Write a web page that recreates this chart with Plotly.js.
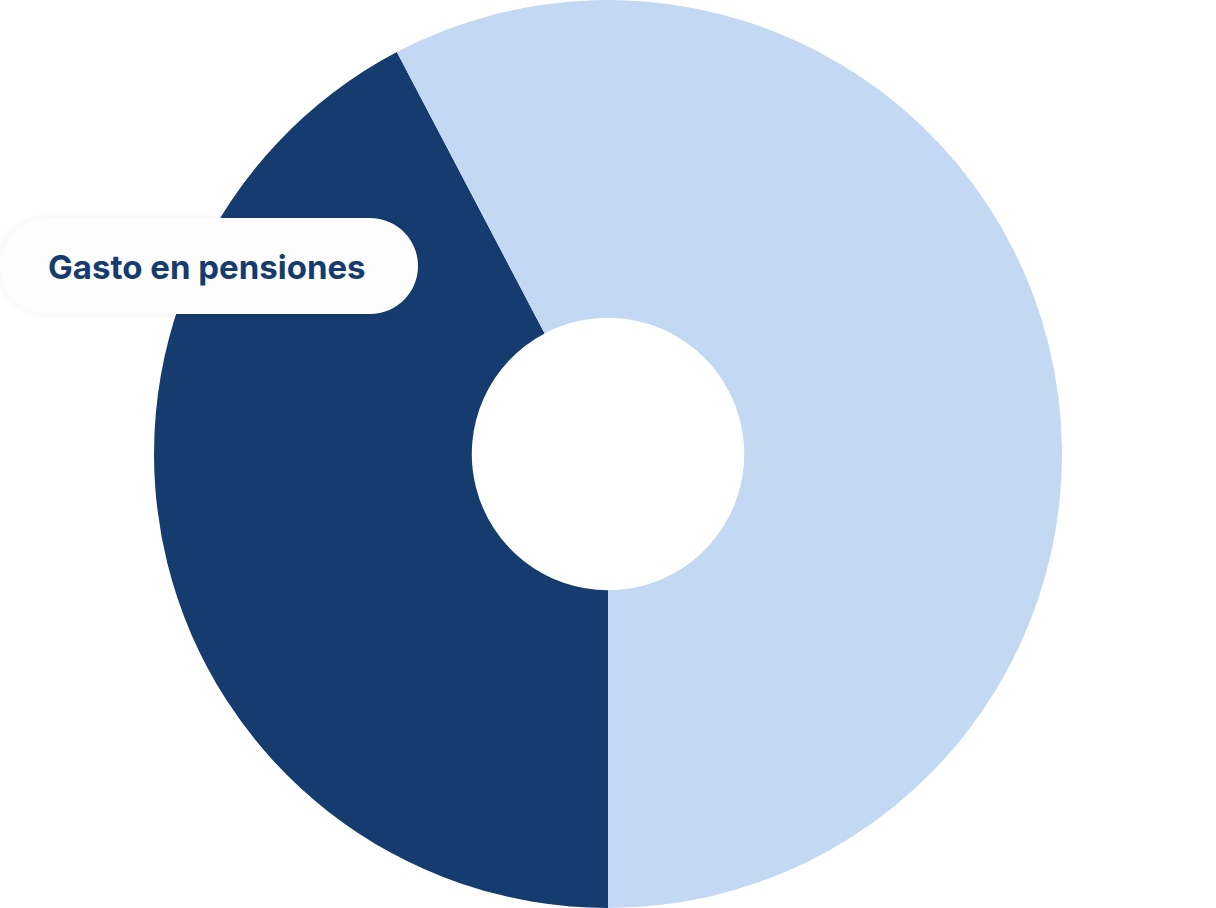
<!DOCTYPE html>
<html>
<head>
<meta charset="utf-8">
<script src="https://cdn.plot.ly/plotly-3.0.1.min.js"></script>
<style>html,body{margin:0;padding:0;background:#fff}#chart{width:1216px;height:908px}</style>
</head>
<body>
<div id="chart"></div>
<script>
const categories = ["Gasto en pensiones", "Resto"];
const values = [42.3, 57.7];
const colors = ["#163C6F", "#C3D8F3"];
const labelText = "Gasto en pensiones";

const W = 1216, H = 908;
function X(px){ return px / W; }
function Y(py){ return 1 - py / H; }
function pill(x0, x1, yc, r){
  const k = 0.5523 * r;
  const t = yc - r, b = yc + r;
  const l = x0 + r, rr = x1 - r;
  const p = (x, y) => X(x) + "," + Y(y);
  return "M" + p(l, t) + " L" + p(rr, t) +
    " C" + p(rr + k, t) + " " + p(x1, yc - k) + " " + p(x1, yc) +
    " C" + p(x1, yc + k) + " " + p(rr + k, b) + " " + p(rr, b) +
    " L" + p(l, b) +
    " C" + p(l - k, b) + " " + p(x0, yc + k) + " " + p(x0, yc) +
    " C" + p(x0, yc - k) + " " + p(l - k, t) + " " + p(l, t) + " Z";
}

const trace = {
  type: "pie",
  labels: categories,
  values: values,
  marker: { colors: colors, line: { width: 0 } },
  hole: 0.3,
  sort: false,
  direction: "clockwise",
  rotation: 180,
  textinfo: "none",
  hoverinfo: "label+percent",
  showlegend: false,
  domain: { x: [0, 1], y: [0, 1] }
};

const layout = {
  width: W, height: H,
  margin: { l: 0, r: 0, t: 0, b: 0 },
  paper_bgcolor: "#ffffff",
  showlegend: false,
  shapes: [
    { type: "path", xref: "paper", yref: "paper", path: pill(-8, 420, 266, 52), fillcolor: "rgba(0,0,0,0.008)", line: { width: 0 } },
    { type: "path", xref: "paper", yref: "paper", path: pill(-4, 419, 266, 50), fillcolor: "rgba(0,0,0,0.01)", line: { width: 0 } },
    { type: "path", xref: "paper", yref: "paper", path: pill(0, 418, 266, 48), fillcolor: "#FDFDFD", line: { width: 0 } }
  ],
  annotations: [
    { text: labelText, xref: "paper", yref: "paper", x: X(46), y: Y(267), xanchor: "left", yanchor: "middle",
      showarrow: false, font: { family: "Inter, 'Open Sans', sans-serif", size: 33, weight: 700, color: "#163C6F" } }
  ]
};

Plotly.newPlot("chart", [trace], layout, { displayModeBar: false, staticPlot: true });
</script>
</body>
</html>
